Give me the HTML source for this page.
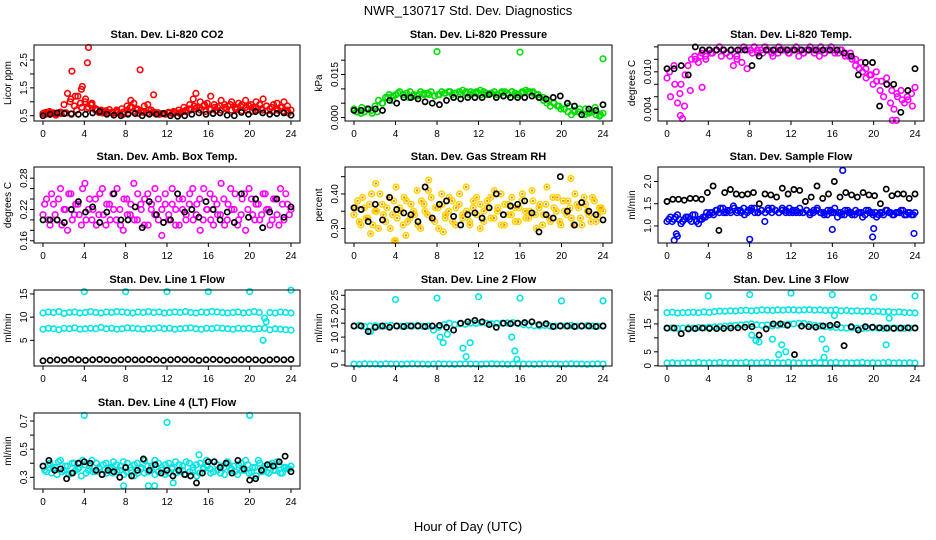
<!DOCTYPE html>
<html><head><meta charset="utf-8">
<style>
body{margin:0;background:#fff;}
svg{display:block;font-family:"Liberation Sans",Arial,sans-serif;}
</style></head>
<body>
<svg id="chart" width="936" height="540" viewBox="0 0 936 540" xmlns="http://www.w3.org/2000/svg">
<rect x="0" y="0" width="936" height="540" fill="#fff"/>
<text x="468" y="15" text-anchor="middle" font-size="13">NWR_130717 Std. Dev. Diagnostics</text>
<text x="468" y="531" text-anchor="middle" font-size="13">Hour of Day (UTC)</text>
</svg>
<script>
// ---------- data ----------
const xTicks = [0,4,8,12,16,20,24];
// CO2
const co2Red = [0.58,0.62,0.55,0.6,0.57,0.63,0.9,1.3,1.1,0.85,1.2,1.45,1.0,0.8,0.95,0.7,0.62,0.6,0.68,0.72,0.6,0.65,0.58,0.63,0.7,0.8,0.95,0.75,0.68,0.85,0.9,0.7,0.62,0.6,0.57,0.55,0.6,0.58,0.62,0.6,0.65,0.7,0.9,1.1,0.8,1.0,0.85,0.95,1.2,0.9,0.8,1.05,0.9,0.85,1.0,0.8,0.95,0.9,1.05,0.85,0.8,1.0,0.9,1.1,0.85,0.75,0.9,0.95,0.8,1.0,0.85,0.7];
const co2RedLow = [0.55,0.6,0.52,0.58,0.6,0.55,0.7,0.8,0.75,0.9,0.7,0.65,0.6,0.58,0.62,0.55,0.6,0.65,0.58,0.62,0.7,0.6,0.55,0.58,0.6,0.62,0.58,0.65,0.7,0.75,0.7,0.65,0.72,0.68,0.7,0.75,0.7,0.72,0.68,0.7,0.65,0.72,0.7,0.68,0.65,0.7,0.66,0.6];
const co2RedMid = [0.6,0.65,0.58,0.62,0.6,1.0,1.2,0.95,1.1,0.9,0.75,0.7,0.65,0.62,0.7,0.75,0.85,0.8,0.7,0.65,0.6,0.62,0.6,0.58,0.62,0.65,0.7,0.8,0.75,0.85,0.8,0.9,0.75,0.8,0.85,0.8,0.9,0.75,0.85,0.8,0.9,0.8,0.75,0.85,0.8,0.75,0.8,0.7];
const co2OutHrs = [2.8,4.3,4.4,9.4,8.5,10.7,14.8,3.8];
const co2OutVals = [2.1,2.4,2.95,2.15,1.05,1.25,1.3,1.55];
const co2Black = [0.5,0.55,0.6,0.58,0.57,0.55,0.55,0.6,0.65,0.55,0.52,0.5,0.55,0.58,0.5,0.55,0.55,0.58,0.5,0.48,0.5,0.55,0.6,0.55,0.58,0.6,0.52,0.5,0.62,0.55,0.65,0.6,0.55,0.58,0.6,0.52];
// Pressure
const presGreen = [0.003,0.002,0.0015,0.002,0.003,0.0025,0.004,0.006,0.005,0.007,0.008,0.006,0.008,0.009,0.008,0.0085,0.009,0.008,0.0075,0.009,0.008,0.0085,0.009,0.0075,0.008,0.009,0.0085,0.009,0.008,0.0085,0.009,0.0095,0.009,0.008,0.0085,0.009,0.0095,0.009,0.008,0.0085,0.009,0.008,0.0085,0.009,0.008,0.009,0.0085,0.008,0.009,0.0095,0.009,0.009,0.008,0.007,0.006,0.005,0.004,0.005,0.004,0.003,0.003,0.002,0.001,0.0025,0.002,0.001,0.003,0.0015,0.002,0.001,0.0005,0.0015];
const presGreen2 = [0.002,0.0035,0.003,0.0015,0.002,0.005,0.007,0.0075,0.0085,0.008,0.007,0.0075,0.008,0.0085,0.008,0.0075,0.008,0.0085,0.009,0.0085,0.008,0.0085,0.009,0.0085,0.008,0.0085,0.0085,0.008,0.009,0.0085,0.009,0.008,0.0085,0.009,0.0085,0.008,0.007,0.006,0.005,0.004,0.003,0.004,0.002,0.003,0.001,0.002,0.0035,0.001];
const presOutHrs = [8,16,24];
const presOutVals = [0.023,0.0228,0.0205];
const presBlack = [0.0025,0.0025,0.003,0.003,0.0025,0.006,0.005,0.007,0.007,0.0065,0.0055,0.005,0.0045,0.006,0.007,0.0065,0.007,0.007,0.007,0.008,0.007,0.0075,0.007,0.007,0.007,0.0075,0.007,0.0065,0.007,0.0075,0.005,0.004,0.001,0.003,0.0025,0.0045];
// Li-820 Temp
const tempMag = [0.009,0.006,0.011,0.005,0.008,0.0045,0.011,0.012,0.0125,0.0115,0.013,0.0125,0.0135,0.013,0.0135,0.014,0.0135,0.013,0.0125,0.011,0.012,0.0135,0.014,0.0135,0.0135,0.014,0.013,0.0135,0.014,0.0135,0.013,0.0135,0.014,0.0135,0.0135,0.013,0.0135,0.014,0.0135,0.013,0.0135,0.014,0.0135,0.0135,0.014,0.013,0.0135,0.014,0.0135,0.013,0.0135,0.013,0.0125,0.012,0.011,0.0105,0.01,0.009,0.0095,0.008,0.0085,0.007,0.006,0.008,0.005,0.004,0.006,0.007,0.005,0.0055,0.0065,0.0075];
const tempMag2 = [0.01,0.008,0.0065,0.0095,0.007,0.012,0.0125,0.012,0.013,0.0135,0.0125,0.013,0.0135,0.0125,0.0115,0.0105,0.013,0.0135,0.013,0.0135,0.0125,0.013,0.0135,0.013,0.0135,0.0125,0.013,0.0135,0.013,0.0125,0.013,0.0135,0.013,0.0135,0.0125,0.013,0.012,0.0115,0.0105,0.0095,0.01,0.0085,0.009,0.007,0.0065,0.0055,0.006,0.0045];
const tempOutHrs = [1.3,1.5,3.4,21.8,22.2];
const tempOutVals = [0.003,0.0025,0.0075,0.0022,0.0022];
const tempBlack = [0.0105,0.0105,0.011,0.0095,0.014,0.0135,0.0135,0.0135,0.0135,0.0135,0.0135,0.0135,0.011,0.0125,0.0135,0.0135,0.0135,0.0135,0.0135,0.0135,0.0135,0.0135,0.0135,0.0135,0.0135,0.013,0.0125,0.0095,0.0115,0.0115,0.0045,0.008,0.008,0.0035,0.007,0.0105];
// Amb box temp
const ambMag = [0.21,0.24,0.19,0.23,0.2,0.26,0.22,0.18,0.25,0.21,0.23,0.19,0.27,0.22,0.2,0.24,0.21,0.26,0.19,0.23,0.25,0.2,0.22,0.18,0.24,0.21,0.27,0.2,0.23,0.19,0.25,0.22,0.21,0.24,0.17,0.23,0.2,0.26,0.22,0.19,0.24,0.21,0.25,0.2,0.23,0.18,0.26,0.22,0.2,0.24,0.21,0.27,0.19,0.23,0.22,0.25,0.2,0.24,0.18,0.26,0.21,0.23,0.2,0.25,0.22,0.19,0.24,0.21,0.26,0.2,0.23,0.22];
const ambMag2 = [0.23,0.2,0.25,0.21,0.24,0.19,0.22,0.25,0.2,0.23,0.21,0.26,0.2,0.24,0.22,0.19,0.25,0.21,0.23,0.2,0.22,0.26,0.19,0.24,0.21,0.23,0.2,0.25,0.22,0.24,0.19,0.23,0.26,0.2,0.22,0.25,0.21,0.23,0.19,0.24,0.22,0.2,0.23,0.26,0.21,0.24,0.2,0.22,0.25,0.19,0.23,0.21,0.24,0.2,0.26,0.22,0.19,0.21,0.25,0.22,0.24,0.2,0.23,0.21,0.25,0.22,0.2,0.24,0.19,0.23,0.25,0.21];
const ambBlack = [0.2,0.2,0.2,0.195,0.22,0.235,0.215,0.225,0.195,0.215,0.25,0.2,0.2,0.225,0.185,0.235,0.21,0.195,0.2,0.25,0.215,0.22,0.205,0.235,0.22,0.2,0.215,0.195,0.25,0.205,0.24,0.185,0.215,0.24,0.205,0.225];
// Gas stream RH
const rhA = [0.34,0.38,0.31,0.36,0.33,0.4,0.35,0.3,0.37,0.32,0.39,0.34,0.42,0.36,0.31,0.38,0.33,0.35,0.41,0.3,0.37,0.34,0.39,0.32,0.36,0.4,0.33,0.35,0.38,0.31,0.37,0.34,0.42,0.32,0.36,0.39,0.3,0.35,0.38,0.33,0.41,0.36,0.31,0.37,0.34,0.39,0.32,0.36,0.4,0.33,0.35,0.38,0.3,0.37,0.34,0.42,0.32,0.36,0.39,0.31,0.35,0.38,0.33,0.4,0.36,0.31,0.37,0.34,0.39,0.32,0.36,0.35];
const rhB = [0.36,0.32,0.39,0.33,0.37,0.31,0.35,0.4,0.34,0.36,0.3,0.38,0.33,0.35,0.39,0.32,0.37,0.34,0.31,0.38,0.35,0.41,0.33,0.36,0.3,0.37,0.34,0.39,0.32,0.36,0.4,0.33,0.35,0.31,0.38,0.34,0.37,0.32,0.36,0.39,0.33,0.35,0.4,0.31,0.37,0.34,0.36,0.32,0.38,0.35,0.33,0.41,0.34,0.36,0.31,0.37,0.33,0.39,0.35,0.32,0.38,0.34,0.36,0.31,0.37,0.33,0.39,0.35,0.32,0.38,0.34,0.36];
const rhOutHrs = [3.9,4.0,5.0,1.6,8.6,2.1,7.2,20.9];
const rhOutVals = [0.265,0.265,0.28,0.285,0.29,0.43,0.44,0.445];
const rhBlack = [0.36,0.355,0.32,0.37,0.325,0.39,0.355,0.345,0.34,0.32,0.42,0.33,0.37,0.38,0.335,0.31,0.34,0.345,0.33,0.36,0.4,0.34,0.365,0.37,0.38,0.345,0.29,0.34,0.33,0.45,0.35,0.31,0.375,0.35,0.34,0.325];
// Sample flow
const sfBlue = [1.1,1.2,1.15,1.25,1.05,1.15,1.2,1.1,1.25,1.05,1.15,1.2,1.25,1.3,1.35,1.3,1.4,1.3,1.35,1.45,1.3,1.35,1.4,1.3,1.35,1.4,1.3,1.35,1.1,1.4,1.3,1.35,1.3,1.4,1.35,1.3,1.35,1.3,1.4,1.3,1.35,1.3,1.35,1.4,1.3,1.25,1.35,1.3,1.4,1.3,1.25,1.35,1.3,1.25,1.35,1.3,1.2,1.35,1.3,1.25,1.2,1.3,1.25,1.35,1.3,1.25,1.3,1.35,1.25,1.3,1.25,1.3];
const sfBlue2 = [1.15,1.1,1.2,1.15,1.1,1.2,1.15,1.25,1.1,1.15,1.2,1.3,1.3,1.25,1.35,1.4,1.3,1.35,1.3,1.4,1.35,1.3,1.25,1.35,1.4,1.3,1.3,1.35,1.3,1.35,1.4,1.35,1.3,1.35,1.3,1.4,1.3,1.35,1.3,1.3,1.35,1.25,1.3,1.35,1.3,1.3,1.25,1.35,1.3,1.2,1.3,1.25,1.35,1.3,1.25,1.3,1.3,1.25,1.35,1.3,1.3,1.25,1.3,1.35,1.3,1.25,1.3,1.3,1.35,1.25,1.3,1.25];
const sfOutHrs = [0.7,0.9,1.0,8.0,16.0,17.0,19.9,20.0,23.9];
const sfOutVals = [0.68,0.82,0.77,0.7,0.92,2.25,0.75,0.94,0.83];
const sfBlack = [1.55,1.6,1.6,1.58,1.62,1.62,1.6,1.75,1.9,0.9,1.75,1.82,1.72,1.7,1.72,1.75,1.5,1.72,1.7,1.65,1.85,1.72,1.82,1.8,1.55,1.65,1.9,1.62,1.72,2.0,1.65,1.75,1.7,1.65,1.75,1.7,1.68,1.5,1.83,1.68,1.72,1.72,1.62,1.72];
// Line 1
const l1Top = [10.9,11.1,11,11.2,10.8,11,11.1,10.9,11,11.2,11,10.9,11.1,11,11.2,11.1,11,10.9,11.1,11,11.2,11,11.1,10.9,11,11.1,11,11.2,11,10.9,11.1,11,11.2,11.1,11,10.9,11,11.1,10.9,11,11.2,11,9.8,11,10.9,11.1,11,10.9];
const l1Mid = [7.4,7.6,7.5,7.3,7.6,7.5,7.7,7.4,7.5,7.6,7.5,7.8,7.5,7.6,7.4,7.5,7.7,7.6,7.5,7.4,7.6,7.5,7.7,7.5,7.6,7.4,7.5,7.6,7.7,7.5,7.4,7.6,7.5,7.7,7.6,7.5,7.4,7.6,7.5,7.6,7.4,7.5,7.6,7.3,7.5,7.4,7.3,7.2];
const l1OutHrs = [4,8,12,16,20,24,21.3,21.6];
const l1OutVals = [15.5,15.5,15.5,15.5,15.5,15.8,5,9];
const l1Black = [0.6,0.7,0.8,0.7,0.9,0.8,0.7,0.8,0.9,0.8,0.7,0.8,0.9,0.8,0.8,0.9,0.8,0.7,0.8,0.9,0.8,0.8,0.7,0.8,0.9,0.8,0.7,0.8,0.8,0.9,0.8,0.7,0.8,0.9,0.8,0.9];
// Line 2
const l2Low = [0.3,0.2,0.4,0.3,0.3,0.2,0.4,0.3,0.3,0.2,0.3,0.4,0.3,0.3,0.2,0.3,0.4,0.3,0.3,0.2,0.3,0.4,0.3,0.3,0.2,0.3,0.4,0.3,0.3,0.2,0.3,0.4,0.3,0.3,0.2,0.3,0.4,0.3,0.3,0.2,0.3,0.4,0.3,0.3,0.2,0.3,0.4,0.3];
const l2Main = [14,14.2,13.8,14,14.1,13.9,14,14.2,14,13.9,14.1,14,14.2,13.9,14,12.5,13.5,14.5,15,14.5,14.8,14.6,15,14.9,15.2,15,14.8,14.9,15,15.1,15.2,14.9,14.5,14.3,14.1,14,14.2,14,13.9,14.1,14,14.2,13.9,14,14.1,14,13.9,14];
const l2OutHrs = [4,8,12,16,20,24,8.3,8.6,9.0,10.5,10.8,11.2,15.2,15.5,15.7,1.6];
const l2OutVals = [23.5,24,24.5,24,23,23,10,8,11,6,3,8,10,5,2,12];
const l2Black = [14,14,12,13.5,14,13.5,14,13.8,14,14,13.8,14,14.2,13.5,12.5,15,15.5,16,15.5,14.5,13.5,15,14.8,15,15.2,15.5,14.5,14.8,13.8,14,14,13.8,14,14,13.8,14];
// Line 3
const l3Top = [19,19.2,18.9,19,19.1,19.2,19,19.3,19.1,19.4,19.6,19.5,19.7,19.6,19.8,19.9,19.7,19.8,20,19.9,19.8,20,19.9,20.1,20,19.9,20,20.1,19.9,20,19.8,19.9,20,19.7,19.8,19.6,19.7,19.5,19.6,19.4,19.5,19.3,19.4,19.2,19.3,19.1,19,18.9];
const l3Mid = [13.5,13.6,13.4,13.5,13.6,13.5,13.7,13.6,13.8,13.9,14,14.2,14.3,14.5,14.6,14.8,15,14.7,14.5,14.6,14.3,14.5,14.7,14.9,15,15.2,15.1,14.8,14.5,14.3,14,13.8,13.7,13.6,13.5,13.6,13.5,13.4,13.5,13.6,13.5,13.4,13.5,13.6,13.5,13.4,13.5,13.6];
const l3Low = [1,1.1,0.9,1,1.1,1,1.2,1,1.1,1,1.2,1.1,1,1.1,1,1.2,1.1,1,1.1,1.2,1,1.1,1,1.2,1.1,1,1.1,1,1.2,1.1,1,1.1,1.2,1,1.1,1,1.1,1.2,1,1.1,1,1.1,1.2,1,1.1,1,1.1,1];
const l3OutHrs = [4,8,12,16,20,24,21.2,21.5,8.2,8.6,8.9,10.2,10.8,11.1,11.5,15,15.2,15.4,16.2];
const l3OutVals = [25,25.5,26,25.5,24.5,25,7.5,17,11,9,8.5,9.5,4,7.5,5,9.5,3,6,18];
const l3Black = [13.5,13.5,11.5,13.2,13.3,13.5,13.4,13.3,13.4,13.5,13.6,13.8,14,11,13.2,15,15,14.5,4,14.2,14,13.8,14.3,14.5,14.8,7.2,14,12.8,14,13.8,13.6,13.5,13.4,13.5,13.6,13.5];
// Line 4
const l4A = [0.38,0.34,0.4,0.36,0.32,0.42,0.35,0.38,0.33,0.4,0.36,0.31,0.39,0.35,0.42,0.34,0.37,0.32,0.4,0.36,0.33,0.39,0.35,0.41,0.34,0.37,0.31,0.4,0.36,0.33,0.38,0.35,0.42,0.34,0.37,0.32,0.4,0.36,0.33,0.39,0.35,0.41,0.34,0.37,0.31,0.4,0.36,0.38,0.33,0.41,0.35,0.38,0.32,0.4,0.36,0.34,0.39,0.35,0.42,0.33,0.37,0.31,0.4,0.36,0.34,0.39,0.35,0.41,0.33,0.37,0.36,0.38];
const l4B = [0.35,0.39,0.33,0.37,0.41,0.34,0.38,0.32,0.4,0.35,0.37,0.42,0.33,0.38,0.34,0.4,0.36,0.39,0.33,0.37,0.41,0.34,0.38,0.32,0.4,0.35,0.39,0.33,0.37,0.42,0.34,0.38,0.32,0.4,0.35,0.39,0.33,0.37,0.41,0.34,0.38,0.32,0.4,0.35,0.39,0.33,0.37,0.42,0.36,0.34,0.39,0.33,0.37,0.41,0.35,0.38,0.32,0.4,0.35,0.39,0.34,0.37,0.42,0.34,0.38,0.33,0.4,0.35,0.39,0.33,0.37,0.36];
const l4OutHrs = [4,12,20,7.8,10.2,10.8,15.1,12.6];
const l4OutVals = [0.74,0.69,0.74,0.24,0.24,0.24,0.46,0.26];
const l4Black = [0.38,0.42,0.35,0.36,0.29,0.33,0.4,0.41,0.4,0.35,0.32,0.35,0.34,0.3,0.37,0.31,0.35,0.43,0.35,0.39,0.33,0.35,0.31,0.35,0.32,0.31,0.26,0.33,0.41,0.41,0.37,0.4,0.33,0.42,0.36,0.28,0.29,0.35,0.39,0.38,0.41,0.45,0.34];

// ---------- layout ----------
const colBox = [[34,300],[345,612],[658,924]];
const rowTop = [45,167,290,413];
const boxH = 76;
const CY = '#00e5e5';
const panels = [
 {name:'co2',title:'Stan. Dev. Li-820 CO2',ylab:'Licor ppm',c:0,r:0,ymin:0.31,ymax:3.04,ticks:[0.5,1,1.5,2,2.5],labels:['0.5','','1.5','','2.5'],
  series:[{v:co2Red,col:'#ff0000'},{v:co2RedLow,col:'#ff0000',off:0.5},{v:co2RedMid,col:'#ff0000',off:0.25},{v:co2OutVals,h:co2OutHrs,col:'#ff0000'},{v:co2Black,col:'#000'}]},
 {name:'pressure',title:'Stan. Dev. Li-820 Pressure',ylab:'kPa',c:1,r:0,ymin:-0.0012,ymax:0.0253,ticks:[0,0.005,0.01,0.015,0.02],labels:['0.000','','','0.015',''],
  series:[{v:presGreen,col:'#00dd00'},{v:presGreen2,col:'#00dd00',off:0.5},{v:presOutVals,h:presOutHrs,col:'#00dd00'},{v:presBlack,col:'#000'}]},
 {name:'li820-temp',title:'Stan. Dev. Li-820 Temp.',ylab:'degrees C',c:2,r:0,ymin:0.00211,ymax:0.0143,ticks:[0.004,0.006,0.008,0.010,0.012,0.014],labels:['0.004','','','0.010','',''],
  series:[{v:tempMag,col:'#ff00ff'},{v:tempMag2,col:'#ff00ff',off:0.5},{v:tempOutVals,h:tempOutHrs,col:'#ff00ff'},{v:tempBlack,col:'#000'}]},
 {name:'amb-box-temp',title:'Stan. Dev. Amb. Box Temp.',ylab:'degrees C',c:0,r:1,ymin:0.1557,ymax:0.3014,ticks:[0.16,0.18,0.2,0.22,0.24,0.26,0.28],labels:['0.16','','','0.22','','','0.28'],
  series:[{v:ambMag,col:'#ff00ff'},{v:ambMag2,col:'#ff00ff',off:0.5},{v:ambBlack,col:'#000'}]},
 {name:'gas-rh',title:'Stan. Dev. Gas Stream RH',ylab:'percent',c:1,r:1,ymin:0.258,ymax:0.478,ticks:[0.30,0.35,0.40,0.45],labels:['0.30','','0.40',''],
  series:[{v:rhA,col:'#ffd400',fill:'#ff8800'},{v:rhB,col:'#ffd400',fill:'#ff8800',off:0.5},{v:rhOutVals,h:rhOutHrs,col:'#ffd400',fill:'#ff8800'},{v:rhBlack,col:'#000'}]},
 {name:'sample-flow',title:'Stan. Dev. Sample Flow',ylab:'ml/min',c:2,r:1,ymin:0.616,ymax:2.327,ticks:[1,1.5,2],labels:['1.0','1.5','2.0'],
  series:[{v:sfBlue,col:'#0000ff'},{v:sfBlue2,col:'#0000ff',off:0.5},{v:sfOutVals,h:sfOutHrs,col:'#0000ff'},{v:sfBlack,col:'#000'}]},
 {name:'line1-flow',title:'Stan. Dev. Line 1 Flow',ylab:'ml/min',c:0,r:2,ymin:-0.53,ymax:15.85,ticks:[5,10,15],labels:['5','10','15'],
  series:[{v:l1Top,col:CY},{v:l1Mid,col:CY},{v:l1OutVals,h:l1OutHrs,col:CY},{v:l1Black,col:'#000'}]},
 {name:'line2-flow',title:'Stan. Dev. Line 2 Flow',ylab:'ml/min',c:1,r:2,ymin:-0.37,ymax:26.9,ticks:[0,5,10,15,20,25],labels:['0','5','10','15','20','25'],
  series:[{v:l2Low,col:CY},{v:l2Main,col:CY},{v:l2OutVals,h:l2OutHrs,col:CY},{v:l2Black,col:'#000'}]},
 {name:'line3-flow',title:'Stan. Dev. Line 3 Flow',ylab:'ml/min',c:2,r:2,ymin:-0.09,ymax:27.15,ticks:[0,5,10,15,20,25],labels:['0','5','','15','','25'],
  series:[{v:l3Top,col:CY},{v:l3Mid,col:CY},{v:l3Low,col:CY},{v:l3OutVals,h:l3OutHrs,col:CY},{v:l3Black,col:'#000'}]},
 {name:'line4-flow',title:'Stan. Dev. Line 4 (LT) Flow',ylab:'ml/min',c:0,r:3,ymin:0.217,ymax:0.757,ticks:[0.3,0.4,0.5,0.6,0.7],labels:['0.3','','0.5','','0.7'],
  series:[{v:l4A,col:CY},{v:l4B,col:CY,off:0.5},{v:l4OutVals,h:l4OutHrs,col:CY},{v:l4Black,col:'#000'}]}
];

const NS = 'http://www.w3.org/2000/svg';
const svg = document.getElementById('chart');
function mk(tag, attrs, parent){
  const e = document.createElementNS(NS, tag);
  for (const k in attrs) e.setAttribute(k, attrs[k]);
  (parent||svg).appendChild(e);
  return e;
}
panels.forEach(p => {
  const L = colBox[p.c][0], R = colBox[p.c][1], T = rowTop[p.r], B = T + boxH;
  const xs = h => (L + 9) + h / 24 * (R - L - 18);
  const ys = v => B - (v - p.ymin) / (p.ymax - p.ymin) * (B - T);
  const g = mk('g', {});
  
  
  const t = mk('text', {x:(L+R)/2, y:T-7, 'text-anchor':'middle', 'font-size':'11', 'font-weight':'bold'}, g);
  t.textContent = p.title;
  
  
  const yl = mk('text', {x:0, y:0, 'text-anchor':'middle', 'font-size':'10', transform:`translate(${L-23},${(T+B)/2}) rotate(-90)`}, g);
  yl.textContent = p.ylab;
  
  
  const pg = mk('g', {}, g);
  p.series.forEach(s => {
    const n = s.v.length;
    const black = s.col === '#000';
    s.v.forEach((val, i) => {
      let h;
      if (s.h) h = s.h[i];
      else h = (i + (s.off||0)) * 24 / (n - 1 + (s.off?1:0));
      if (h > 24) h = 24;
      const cx = xs(h), cy = ys(val);
      if (cy < T || cy > B) return;
      const c = mk('circle', {cx:cx.toFixed(1), cy:cy.toFixed(1), r: black?2.6:2.8, fill:'none', stroke:s.col, 'stroke-width': black?1.7:1.6}, pg);
      
      
      if (s.fill) {
        const d = mk('circle', {cx:cx.toFixed(1), cy:cy.toFixed(1), r:1.2, fill:s.fill}, pg);
        
        
      }
    });
  });
  const bx = mk('rect', {x:L, y:T, width:R-L, height:B-T, fill:'none', stroke:'#000', 'stroke-width':1}, g);
  
  
  mk('line', {x1:xs(0), x2:xs(24), y1:B, y2:B, stroke:'#000'}, g);
  xTicks.forEach(h => {
    mk('line', {x1:xs(h), x2:xs(h), y1:B, y2:B+4, stroke:'#000'}, g);
    const tl = mk('text', {x:xs(h), y:B+16, 'text-anchor':'middle', 'font-size':'10'}, g);
    tl.textContent = h;
    
    
  });
  mk('line', {x1:L, x2:L, y1:ys(p.ticks[0]), y2:ys(p.ticks[p.ticks.length-1]), stroke:'#000'}, g);
  p.ticks.forEach((v, i) => {
    const y = ys(v);
    mk('line', {x1:L-4, x2:L, y1:y, y2:y, stroke:'#000'}, g);
    if (p.labels[i]) {
      const tl = mk('text', {x:0, y:0, 'text-anchor':'middle', 'font-size':'10', transform:`translate(${L-7},${y}) rotate(-90)`}, g);
      tl.textContent = p.labels[i];
      
      
    }
  });
});
</script>
</body></html>
